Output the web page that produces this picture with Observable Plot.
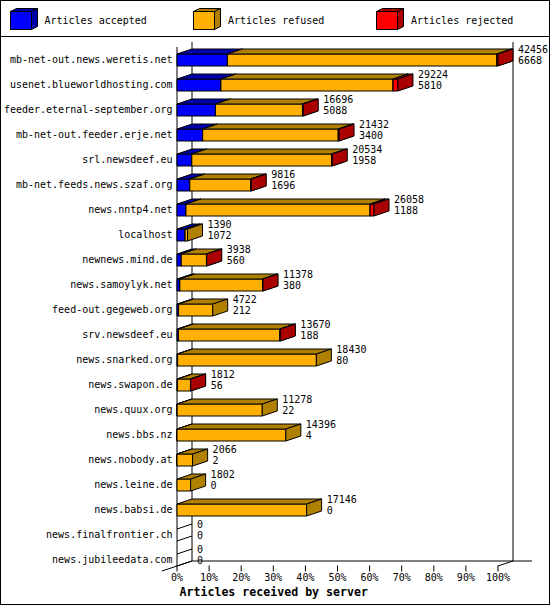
<!DOCTYPE html>
<html>
<head>
<meta charset="utf-8">
<script src="https://cdn.jsdelivr.net/npm/d3@7"></script>
<script src="https://cdn.jsdelivr.net/npm/@observablehq/plot@0.6"></script>
<style>
  html, body { margin: 0; padding: 0; background: #fff; }
  #wrap { position: relative; width: 550px; height: 605px; background: #fff; overflow: hidden; }
  #frame { position: absolute; left: 0; top: 0; width: 550px; height: 605px; box-sizing: border-box; border: 1px solid #000; pointer-events: none; }
  #legend, #chart svg { display: block; }
</style>
</head>
<body>
<div id="wrap">
  <svg id="legend" width="550" height="37"></svg>
  <div id="chart"></div>
  <div id="frame"></div>
</div>
<script>
// ---- data ----
const servers = [
  "mb-net-out.news.weretis.net", "usenet.blueworldhosting.com", "feeder.eternal-september.org",
  "mb-net-out.feeder.erje.net", "srl.newsdeef.eu", "mb-net.feeds.news.szaf.org", "news.nntp4.net",
  "localhost", "newnews.mind.de", "news.samoylyk.net", "feed-out.gegeweb.org", "srv.newsdeef.eu",
  "news.snarked.org", "news.swapon.de", "news.quux.org", "news.bbs.nz", "news.nobody.at",
  "news.leine.de", "news.babsi.de", "news.finalfrontier.ch", "news.jubileedata.com"
];
const total    = [42456, 29224, 16696, 21432, 20534, 9816, 26058, 1390, 3938, 11378, 4722, 13670, 18430, 1812, 11278, 14396, 2066, 1802, 17146, 0, 0];
const accepted = [6668, 5810, 5088, 3400, 1958, 1696, 1188, 1072, 560, 380, 212, 188, 80, 56, 22, 4, 2, 0, 0, 0, 0];
const refused  = [35638, 22764, 11508, 17932, 18496, 8060, 24350, 318, 3338, 10948, 4510, 13422, 18350, 1726, 11256, 14392, 2064, 1802, 17146, 0, 0];
const rejected = [150, 650, 100, 100, 80, 60, 520, 0, 40, 50, 0, 60, 0, 30, 0, 0, 0, 0, 0, 0, 0];
const seriesNames = ["Articles accepted", "Articles refused", "Articles rejected"];
const frontColors = ["#0000ff", "#ffb000", "#ff0000"];
const shadeColors = ["#0000aa", "#b08000", "#aa0000"];
const tickValues = [0, 0.1, 0.2, 0.3, 0.4, 0.5, 0.6, 0.7, 0.8, 0.9, 1];
const axisTitle = "Articles received by server";

const FONT = "DejaVu Sans Mono, monospace";

// ---- legend ----
(function () {
  const svg = d3.select("#legend");
  const cubeX = [10.5, 193.5, 376.5];
  const textX = [44.5, 228, 411];
  seriesNames.forEach((name, k) => {
    const x = cubeX[k], t = 11.5, b = 29.5, w = 21, dx = 6, dy = 3;
    svg.append("polygon").attr("points", `${x},${t} ${x+dx},${t-dy} ${x+w+dx},${t-dy} ${x+w},${t}`)
      .attr("fill", shadeColors[k]).attr("stroke", "#000");
    svg.append("polygon").attr("points", `${x+w},${t} ${x+w+dx},${t-dy} ${x+w+dx},${b-dy} ${x+w},${b}`)
      .attr("fill", shadeColors[k]).attr("stroke", "#000");
    svg.append("rect").attr("x", x).attr("y", t).attr("width", w).attr("height", b - t)
      .attr("fill", frontColors[k]).attr("stroke", "#000");
    svg.append("text").attr("x", textX[k]).attr("y", 21).attr("dy", "0.32em")
      .attr("font-family", FONT).attr("font-size", 10).attr("fill", "#000").text(name);
  });
  svg.append("line").attr("x1", 0).attr("x2", 550).attr("y1", 36.5).attr("y2", 36.5).attr("stroke", "#000");
})();

// ---- chart geometry in data units ----
const maxTotal = d3.max(total);
const H = 0.24;          // half front-face height (rows)
const D = 15 / 321;      // depth in x (fraction)
const E = 0.2;           // depth in y (rows)
const last = servers.length - 1;
const FLOOR = last + H;

const polyPts = [];
const linePts = [];
let pid = 0;
function addPoly(fill, pts) { const id = pid++; pts.forEach(([x, y]) => polyPts.push({x, y, id, fill})); }
let lid = 0;
function addLine(pts) { const id = lid++; pts.forEach(([x, y]) => linePts.push({x, y, id})); }

servers.forEach((s, i) => {
  const vals = [accepted[i], refused[i], rejected[i]];
  if (vals.every(v => v === 0)) {
    addLine([[0, i - H], [D, i - H - E]]);
    addLine([[0, i + H], [D, i + H - E]]);
    return;
  }
  let x0 = 0;
  vals.forEach((v, k) => {
    if (!v) return;
    const x1 = x0 + v / maxTotal;
    addPoly(frontColors[k], [[x0, i - H], [x1, i - H], [x1, i + H], [x0, i + H], [x0, i - H]]);
    addPoly(shadeColors[k], [[x0, i - H], [x0 + D, i - H - E], [x1 + D, i - H - E], [x1, i - H], [x0, i - H]]);
    addPoly(shadeColors[k], [[x1, i - H], [x1 + D, i - H - E], [x1 + D, i + H - E], [x1, i + H], [x1, i - H]]);
    x0 = x1;
  });
});

// walls and floor
const wallTop = -0.72;
addLine([[D, wallTop], [D, FLOOR - E]]);
addLine([[1 + D, wallTop], [1 + D, FLOOR - E]]);
addLine([[0, wallTop + E], [0, FLOOR]]);
addLine([[D, FLOOR - E], [1 + D + 19 / 321, FLOOR - E]]);
addLine([[-D, FLOOR + E], [D, FLOOR - E]]);
addLine([[1, FLOOR], [1 + D, FLOOR - E]]);

const rows = servers.map((s, i) => ({s, i, total: total[i], accepted: accepted[i]}));

const chart = Plot.plot({
  width: 550,
  height: 568,
  margin: 0,
  style: {fontFamily: FONT, fontSize: "10px", background: "white", color: "black"},
  x: {type: "linear", domain: [0, 1], range: [176.5, 497.5], axis: null},
  y: {type: "linear", domain: [0, last], range: [22.5, 522.5], axis: null},
  color: {type: "identity"},
  marks: [
    Plot.line(linePts, {x: "x", y: "y", z: "id", stroke: "#000", strokeWidth: 1, strokeLinecap: "butt", strokeLinejoin: "miter"}),
    Plot.line(polyPts, {x: "x", y: "y", z: "id", fill: "fill", stroke: "#000", strokeWidth: 1, strokeLinecap: "butt", strokeLinejoin: "miter"}),
    Plot.text(rows, {x: () => 0, y: "i", text: "s", textAnchor: "end", dx: -4.5, fontFamily: FONT, fontSize: 10, fill: "#000"}),
    Plot.text(rows, {x: d => d.total / maxTotal, y: "i", text: d => String(d.total), textAnchor: "start", dx: 20, dy: -10, fontFamily: FONT, fontSize: 10, fill: "#000"}),
    Plot.text(rows, {x: d => d.total / maxTotal, y: "i", text: d => String(d.accepted), textAnchor: "start", dx: 20, dy: 1, fontFamily: FONT, fontSize: 10, fill: "#000"}),
    Plot.ruleX(tickValues, {x: d => d, y1: () => FLOOR, y2: () => FLOOR + 0.24, stroke: "#000", strokeWidth: 1}),
    Plot.text(tickValues, {x: d => d, y: () => FLOOR + 0.46, text: d => Math.round(d * 100) + "%", fontFamily: FONT, fontSize: 10, fill: "#000"}),
    Plot.text([axisTitle], {x: () => 0, y: () => FLOOR + 1.06, text: d => d, textAnchor: "start", dx: 2.5, fontFamily: FONT, fontSize: 11.6, fontWeight: "bold", fill: "#000"})
  ]
});
document.getElementById("chart").appendChild(chart);
</script>
</body>
</html>
